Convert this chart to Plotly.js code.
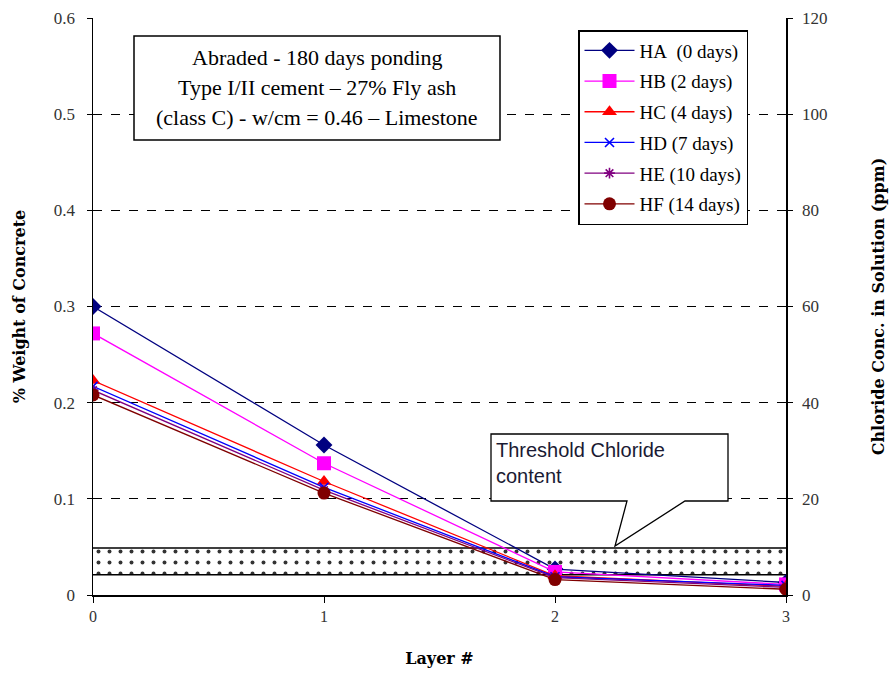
<!DOCTYPE html>
<html>
<head>
<meta charset="utf-8">
<script src="https://cdn.plot.ly/plotly-3.0.1.min.js"></script>
<style>html,body{margin:0;padding:0;background:#fff;}#chart{width:893px;height:676px;}</style>
</head>
<body>
<div id="chart"></div>
<script>
// ---- data ----
var layers = [0, 1, 2, 3];
var seriesNames = ["HA\u00a0\u00a0(0\u00a0days)", "HB (2\u00a0days)", "HC (4\u00a0days)", "HD (7\u00a0days)", "HE (10\u00a0days)", "HF (14\u00a0days)"];
var HA = [0.300, 0.156, 0.027, 0.013];
var HB = [0.272, 0.137, 0.024, 0.011];
var HC = [0.223, 0.118, 0.020, 0.009];
var HD = [0.217, 0.112, 0.019, 0.010];
var HE = [0.213, 0.109, 0.018, 0.008];
var HF = [0.208, 0.106, 0.016, 0.006];
var thresholdLow = 0.021;
var thresholdHigh = 0.049;
var thresholdX = [1.5];
var thresholdWidth = [3.02];
var yTickVals = [0, 0.1, 0.2, 0.3, 0.4, 0.5, 0.6];
var yTickText = ["0", "0.1", "0.2", "0.3", "0.4", "0.5", "0.6"];
var y2TickVals = [0, 20, 40, 60, 80, 100, 120];
var xTickVals = [0, 1, 2, 3];

// ---- styles ----
var colors = ["#000080", "#FF00FF", "#FF0000", "#0000FF", "#800080", "#800000"];
var symbols = ["diamond", "square", "triangle-up", "x-thin-open", "asterisk-open", "circle"];
var sizes = [13, 14, 13, 9, 9, 13];
var allSeries = [HA, HB, HC, HD, HE, HF];

var serif = "Liberation Serif, Times New Roman, serif";
var wideSerif = "DejaVu Serif, serif";

// plot area pixel geometry
var L = 93, R = 786, T = 18, B = 595;
function px(x) { return (x - L) / (R - L); }
function py(y) { return (B - y) / (B - T); }

var traces = [];
traces.push({
  type: "bar", x: thresholdX, y: [thresholdHigh - thresholdLow], base: [thresholdLow],
  width: thresholdWidth, showlegend: false, hoverinfo: "skip",
  marker: { color: "#ffffff", line: { color: "#000", width: 1.5 },
    pattern: { shape: ".", fgcolor: "#333", bgcolor: "#fff", size: 11, solidity: 0.1 } }
});
for (var i = 0; i < allSeries.length; i++) {
  traces.push({
    type: "scatter", mode: "lines+markers", x: layers, y: allSeries[i], name: seriesNames[i],
    legendgroup: "g" + i,
    line: { color: colors[i], width: 1.3 },
    marker: { symbol: symbols[i], size: sizes[i], color: colors[i], line: { color: colors[i], width: (i === 3 || i === 4) ? 1.6 : 0 } }
  });
}
traces.push({ type: "scatter", mode: "markers", x: [0], y: [0], yaxis: "y2", showlegend: false, hoverinfo: "skip", marker: { opacity: 0 } });

var calloutPath = "M" + px(491) + "," + py(434) + " L" + px(728) + "," + py(434) + " L" + px(728) + "," + py(501) +
  " L" + px(685) + "," + py(501) + " L" + px(615) + "," + py(546) + " L" + px(627) + "," + py(501) +
  " L" + px(491) + "," + py(501) + " Z";

var layout = {
  width: 893, height: 676,
  margin: { l: L, r: 893 - R, t: T, b: 676 - B },
  paper_bgcolor: "#fff", plot_bgcolor: "#fff",
  showlegend: true,
  bargap: 0,
  font: { family: serif, color: "#000" },
  xaxis: {
    range: [0, 3], tickvals: xTickVals, showgrid: false, zeroline: false,
    showline: true, linecolor: "#000", linewidth: 1.5, ticks: "outside", ticklen: 6, tickcolor: "#000",
    tickfont: { family: serif, size: 16, color: "#333" },
    title: { text: "<b>Layer #</b>", font: { family: wideSerif, size: 16, color: "#000" }, standoff: 29 }
  },
  yaxis: {
    range: [0, 0.6], tickvals: yTickVals, ticktext: yTickText,
    showgrid: true, gridcolor: "#000", griddash: "dash", gridwidth: 1, zeroline: false,
    showline: true, linecolor: "#000", linewidth: 1.5, ticks: "outside", ticklen: 5, tickcolor: "#000",
    tickfont: { family: serif, size: 17, color: "#333" }, ticklabelstandoff: 8,
    title: { text: "<b>% Weight of Concrete</b>", font: { family: wideSerif, size: 16, color: "#000" }, standoff: 24 }
  },
  yaxis2: {
    overlaying: "y", side: "right", range: [0, 120], tickvals: y2TickVals,
    showgrid: false, zeroline: false, showline: true, linecolor: "#000", linewidth: 1.5,
    ticks: "outside", ticklen: 5, tickcolor: "#000",
    tickfont: { family: serif, size: 17, color: "#333" }, ticklabelstandoff: 6,
    title: { text: "<b>Chloride Conc. in Solution (ppm)</b>", font: { family: wideSerif, size: 16, color: "#000" }, standoff: 46 }
  },
  legend: {
    x: px(578), y: py(30), xanchor: "left", yanchor: "top",
    bgcolor: "#fff", bordercolor: "#000", borderwidth: 1.5,
    font: { family: serif, size: 19, color: "#000" },
    itemwidth: 50, tracegroupgap: 3, traceorder: "grouped"
  },
  shapes: [
    { type: "rect", xref: "paper", yref: "paper", x0: px(134), x1: px(500), y0: py(140), y1: py(36),
      line: { color: "#000", width: 1.5 }, fillcolor: "#fff", layer: "above" },
    { type: "path", xref: "paper", yref: "paper", path: calloutPath,
      line: { color: "#000", width: 1.3 }, fillcolor: "#fff", layer: "above" }
  ],
  annotations: [
    { xref: "paper", yref: "paper", x: px(317), y: py(58), text: "Abraded - 180 days ponding", showarrow: false,
      font: { family: serif, size: 22, color: "#000" }, xanchor: "center", yanchor: "middle" },
    { xref: "paper", yref: "paper", x: px(317), y: py(88), text: "Type I/II cement \u2013 27% Fly ash", showarrow: false,
      font: { family: serif, size: 22, color: "#000" }, xanchor: "center", yanchor: "middle" },
    { xref: "paper", yref: "paper", x: px(317), y: py(118), text: "(class C) - w/cm = 0.46 \u2013 Limestone", showarrow: false,
      font: { family: serif, size: 22, color: "#000" }, xanchor: "center", yanchor: "middle" },
    { xref: "paper", yref: "paper", x: px(494), y: py(437), text: "Threshold Chloride<br>content", showarrow: false, align: "left",
      font: { family: "Liberation Sans, Arial, sans-serif", size: 20, color: "#1a1a33" }, xanchor: "left", yanchor: "top" }
  ]
};

Plotly.newPlot("chart", traces, layout, { displayModeBar: false, staticPlot: true });
</script>
</body>
</html>
